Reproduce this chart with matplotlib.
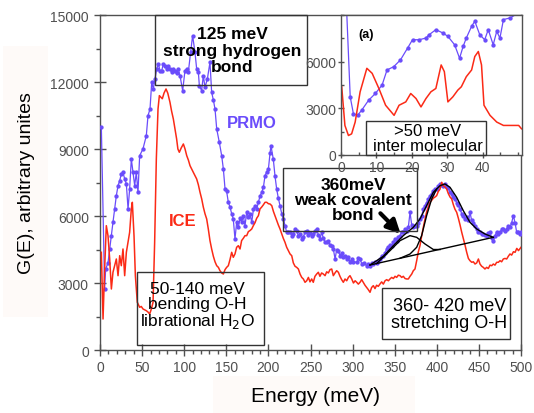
import matplotlib
matplotlib.use("Agg")
import matplotlib.pyplot as plt
from matplotlib.patches import Rectangle
from matplotlib.ticker import MultipleLocator

plt.rcParams['font.family'] = ['Liberation Sans', 'DejaVu Sans']

BLUE = '#6a4cfb'
RED = '#fb2a16'
GREY = '#505050'

# main spectrum G(E): PRMO (blue, dotted line) -- (energy meV, counts)
prmo = [(1.6, 9973), (5.5, 2732), (6.7, 3627), (9.5, 3900), (11.5, 4523), (13.5, 5119),
        (15.4, 5717), (17.4, 6314), (19.4, 6910), (21.4, 7358), (23.4, 7582), (25.3, 7882),
        (27.3, 7955), (29.3, 7658), (31.3, 7434), (33.3, 6314), (35.2, 7210), (37.2, 8553),
        (39.2, 7955), (41.2, 7358), (43.1, 7955), (45.1, 7060), (47.1, 8702), (51, 9000),
        (55, 9597), (57, 10493), (59.4, 10793), (61.4, 11988), (63.3, 11688), (65.3, 12136),
        (67.3, 12584), (69.3, 12808), (71.3, 12509), (73.3, 12509), (75.2, 12808),
        (77.2, 12733), (79, 12584), (81, 12700), (83.1, 12584), (85.1, 12435), (87, 12600),
        (89.1, 12509), (91, 12400), (93, 12584), (95, 12285), (98.2, 11614), (100.9, 12509),
        (102.9, 12584), (104.9, 12435), (107.6, 13330), (110, 14076), (112.8, 13330),
        (114.8, 12584), (116.8, 12435), (118, 11837), (120.7, 11614), (122.7, 12285),
        (124.7, 11763), (127.5, 12136), (130.6, 12883), (132.6, 11540), (134.6, 11200),
        (136.6, 10793), (138.6, 9897), (141.7, 9300), (144.5, 8702), (146.5, 8106),
        (148.5, 7210), (150.4, 7100), (152.4, 6614), (154.4, 6400), (156.4, 6100),
        (158.3, 5866), (160.3, 4971), (162.3, 5717), (164.3, 5493), (166.3, 5900),
        (168.2, 5717), (170.2, 6000), (172.2, 5567), (174.2, 6166), (176.2, 5941),
        (178.2, 6100), (180.2, 5717), (182.2, 6300), (184.1, 6462), (186.1, 6300),
        (188.1, 6614), (190.1, 6900), (192.1, 7060), (194.1, 7300), (196, 7806), (198, 7970),
        (200, 8105), (201.9, 8800), (203, 9150), (205.8, 8553), (207.8, 7806), (209.8, 7210),
        (211.8, 6800), (213.8, 6462), (215.8, 6100), (217.8, 5866), (219.7, 5567),
        (221.7, 5270), (223.7, 5300), (225.7, 5270), (227.7, 5120), (229.6, 5200),
        (231.6, 5400), (233.6, 5343), (235.6, 5100), (237.6, 5200), (239.6, 4971),
        (241.5, 5045), (243.5, 5300), (245.5, 5343), (247.5, 5150), (249.4, 5250),
        (251.4, 5120), (253.3, 5195), (255.3, 5350), (257.4, 5419), (259.3, 5150),
        (261.2, 4971), (263.3, 5270), (265.3, 5000), (267.3, 4823), (269.2, 4823),
        (271.2, 4900), (273.2, 4700), (275.2, 4671), (277.1, 4523), (279.2, 4075),
        (281.1, 4500), (283.1, 4447), (285, 4223), (287, 4350), (289, 4150), (291, 4223),
        (293, 4075), (295, 4150), (296.9, 3927), (299, 4075), (301, 3950), (304.9, 3927),
        (306.8, 4100), (308.8, 4075), (311, 3850), (313, 3900), (316.8, 3775), (318.7, 3850),
        (320.7, 3775), (322.6, 3900), (324.6, 3851), (326.6, 3950), (328.5, 3900),
        (330.5, 4000), (332.5, 4075), (334.5, 4200), (336.5, 4223), (338.5, 4350),
        (340.5, 4523), (342.5, 4600), (344.4, 4700), (346.4, 4650), (348.4, 4823),
        (350.4, 4950), (352.3, 4900), (354.3, 5050), (356.3, 5120), (358.3, 5300),
        (360.2, 5270), (362.3, 5419), (364.2, 5350), (366.2, 5500), (368.2, 6166),
        (370.2, 5600), (372.1, 5500), (374.1, 5567), (376.1, 5567), (378.1, 5700),
        (380, 5866), (382, 6000), (384, 6314), (386, 6462), (388, 6600), (389.9, 6750),
        (391.9, 6910), (393.9, 7000), (395.9, 7100), (397.9, 7210), (399.9, 7210),
        (401.8, 7350), (403.8, 7434), (405.8, 7400), (407.7, 7358), (409.7, 7434),
        (411.7, 7300), (413.7, 7250), (415.7, 7060), (417.6, 7000), (419.6, 6850),
        (421.6, 6762), (423.6, 6600), (425.6, 6500), (427.6, 6314), (429.6, 6100),
        (431.5, 6000), (433.5, 5866), (435.5, 5950), (437.4, 5800), (439.4, 6166),
        (441.4, 5800), (443.4, 5700), (445.4, 5567), (447.4, 5400), (449.3, 5300),
        (451.3, 5270), (453.3, 5200), (455.2, 5195), (457.2, 5150), (459.2, 5120),
        (461.2, 5250), (463.2, 5270), (465.2, 5000), (467.1, 4895), (469.1, 5100),
        (471.1, 5300), (473.1, 5200), (475.1, 5270), (477, 5400), (479, 5419), (481, 5350),
        (483, 5419), (485, 5567), (486.9, 5500), (488.9, 5700), (490.9, 6015), (492.9, 5700),
        (494.9, 5270), (496.9, 5270), (498.9, 5200), (500, 5270)]

# main spectrum G(E): ICE (red line)
ice = [(1.6, 4375), (3.6, 1388), (5.5, 3627), (7.5, 5567), (9.5, 5119), (11.5, 4075),
       (13.5, 2732), (15.4, 3480), (17.4, 3775), (19.4, 4075), (21.4, 3328), (23.4, 4223),
       (25.3, 3775), (27.3, 4523), (29.3, 3328), (31.3, 4375), (33.3, 4823), (35.2, 5270),
       (37.2, 6314), (38.4, 6614), (40.4, 5119), (42, 3328), (44.3, 2136), (47.1, 1912),
       (49, 1950), (51.1, 1836), (53, 1800), (55, 1760), (57, 1700), (59, 1612), (61, 1836),
       (63, 2136), (64.9, 4823), (66.9, 8553), (68.9, 10792), (70.5, 11390), (72.3, 11316),
       (74, 11250), (76, 11500), (78.4, 11688), (80.5, 11500), (83.1, 11092), (85, 10700),
       (87.1, 10345), (89, 9900), (91, 9450), (92.5, 9000), (94.2, 8854), (96.5, 9050),
       (99, 9225), (101, 9000), (103, 8702), (105, 8500), (106.9, 8254), (109, 8100),
       (110.9, 7950), (112.8, 7806), (114.8, 7658), (116.8, 7400), (118.8, 7060),
       (120.8, 6762), (122.7, 6400), (124.7, 6100), (126.7, 5866), (128.7, 5400),
       (130.6, 4900), (132.6, 4523), (134.6, 4200), (136.6, 3950), (138.6, 3775),
       (140.6, 3700), (142.5, 3550), (144.5, 3450), (146.5, 3403), (148.5, 3600),
       (150.4, 3700), (152.4, 3775), (154.4, 4050), (156.4, 4375), (158.3, 4150),
       (160.3, 4300), (162.3, 4600), (164.3, 4671), (166.3, 4523), (168.2, 4900),
       (170.2, 5000), (172.2, 5120), (174.2, 5119), (176.2, 5300), (178.2, 5350),
       (180.2, 5419), (182.1, 5567), (184.1, 5700), (186.1, 5900), (188.1, 6015), (190, 6314),
       (192, 6400), (194, 6500), (196, 6614), (198, 6614), (200, 6550), (201.9, 6538),
       (204, 6462), (206, 6200), (207.8, 6015), (209.9, 5800), (211.8, 5600), (213.8, 5419),
       (215.8, 5200), (217.7, 5000), (219.7, 4823), (221.7, 4600), (223.7, 4450),
       (225.7, 4300), (227.7, 4223), (229.6, 3900), (231.6, 3750), (233.6, 3700),
       (235.6, 3627), (237.6, 3400), (239.6, 3250), (241.5, 3180), (243.5, 3031),
       (245.5, 3100), (247.5, 3250), (249.4, 3050), (251.4, 3180), (253.3, 3031),
       (255.3, 3300), (257.3, 3400), (259.3, 3480), (261.2, 3300), (263.2, 3450),
       (265.2, 3403), (267.3, 3328), (269.2, 3500), (271.2, 3450), (273.2, 3600),
       (275.2, 3627), (277.1, 3328), (279.1, 3450), (281.1, 3550), (283.1, 3480), (285, 3300),
       (287, 3150), (289, 3031), (291, 3180), (293, 3100), (295, 3250), (296.9, 3328),
       (299, 3180), (301, 3000), (303, 3100), (304.9, 3031), (306.8, 2950), (308.8, 3031),
       (310.8, 3150), (312.7, 3031), (314.7, 2900), (316.7, 2800), (318.7, 2700),
       (320.7, 2584), (322.6, 2800), (324.6, 2880), (326.6, 2750), (328.5, 2900),
       (330.5, 2850), (332.5, 2956), (334.5, 3050), (336.5, 2950), (338.5, 3100),
       (340.5, 3150), (342.5, 3100), (344.4, 3180), (346.4, 3250), (348.4, 3200),
       (350.4, 3300), (352.3, 3250), (354.3, 3350), (356.3, 3328), (358.3, 3250),
       (360.2, 3300), (362.3, 3200), (364.3, 3180), (366.2, 3180), (368.2, 3300),
       (370.2, 3400), (372.1, 3550), (374.1, 3627), (376.1, 4000), (378.1, 4400), (380, 4671),
       (382, 5100), (384, 5500), (386, 5866), (388, 6200), (389.9, 6400), (391.9, 6614),
       (393.9, 6700), (395.9, 6800), (397.9, 6850), (399.8, 6910), (401.8, 7100),
       (403.8, 7200), (405.8, 7510), (407.7, 7358), (409.7, 7300), (411.7, 7210),
       (413.7, 7000), (415.7, 6850), (417.7, 6762), (419.7, 6500), (421.6, 6300),
       (423.6, 6166), (425.6, 5900), (427.6, 5600), (429.6, 5270), (431.5, 5000),
       (433.5, 4700), (435.5, 4375), (437.5, 4100), (439.4, 4000), (441.5, 3927),
       (443.4, 3950), (445.4, 3850), (447.4, 3900), (449.4, 4075), (451.3, 3850),
       (453.3, 3750), (455.2, 3700), (457.2, 3627), (459.2, 3700), (461.2, 3650),
       (463.2, 3800), (465.2, 3775), (467.1, 3850), (469.1, 3800), (471.1, 3927),
       (473.1, 3927), (475.1, 4000), (477, 3950), (479, 4075), (481, 4100), (483, 4075),
       (485, 4200), (486.9, 4300), (488.9, 4250), (491, 4400), (493, 4375), (495, 4550),
       (497, 4450), (500, 4599)]

# peak fit around 400 meV (black lines)
fit_base = [(320.7, 3806), (467.1, 5045)]
fit_sum = [(320.7, 3806), (336.5, 4196), (348.4, 4671), (360.2, 5120), (372.1, 5493),
           (380, 5866), (387.9, 6462), (395.8, 7060), (403.8, 7358), (409.7, 7434),
           (415.7, 7284), (423.6, 6836), (431.5, 6238), (439.4, 5717), (447.4, 5419),
           (457.2, 5195), (467.1, 5045)]
fit_small = [(328.5, 3870), (344.4, 4447), (356.3, 4895), (368.2, 5120), (376.1, 5045),
             (386, 4747), (395.9, 4500), (404, 4500)]
fit_big = [(356.3, 4107), (368.2, 4299), (376.1, 4599), (382, 5120), (387.9, 6015),
           (393.9, 6762), (399.9, 7210)]

# inset (a): low energy part, 0-50 meV
prmo_in = [(1.6, 9245), (2.6, 3737), (3.5, 2657), (4.7, 2549), (5.9, 2900), (7.8, 3520),
           (9.7, 3953), (11.6, 4492), (13.0, 5465), (14.9, 5680), (16.8, 6112), (18.8, 6869),
           (20.2, 7409), (22.1, 7409), (24.0, 7517), (24.9, 7733), (26.8, 8057), (28.8, 7841),
           (30.2, 7625), (32.1, 7085), (33.5, 6221), (34.5, 6977), (35.4, 7517), (36.9, 8273),
           (37.8, 8597), (39.2, 7733), (40.6, 7409), (41.6, 8057), (43.0, 7085), (44.0, 7949),
           (44.9, 7517), (45.9, 8705), (47.8, 8813), (50.2, 9137)]
ice_in = [(0.2, 4385), (1.1, 1900), (2.1, 1253), (3.0, 1360), (4.0, 2117), (5.4, 4061),
          (7.3, 5573), (8.8, 5249), (10.7, 4277), (12.6, 3197), (15.0, 2549), (16.4, 3197),
          (18.3, 3413), (19.7, 3953), (21.2, 3629), (22.6, 3089), (24.0, 3629), (25.4, 4061),
          (26.8, 4277), (28.3, 5789), (29.2, 5357), (30.2, 3413), (31.6, 3737), (33.0, 4169),
          (34.0, 4385), (35.4, 5033), (36.9, 5465), (37.8, 6329), (38.8, 6653), (39.7, 5789),
          (40.4, 3197), (42.1, 2549), (44.0, 2117), (45.9, 1900), (48.3, 1900), (50.2, 1900),
          (51.0, 1685)]

fig = plt.figure(figsize=(5.34, 4.14), dpi=100)

# faint label backgrounds
fig.patches.append(Rectangle((0.0056, 0.232), 0.0843, 0.655, transform=fig.transFigure,
                             facecolor='#fefaf8', edgecolor='none', zorder=0))
fig.patches.append(Rectangle((0.399, 0.0), 0.378, 0.089, transform=fig.transFigure,
                             facecolor='#fefaf8', edgecolor='none', zorder=0))

ax = fig.add_axes([0.18727, 0.15217, 0.78839, 0.80918])
x, y = zip(*prmo)
ax.plot(x, y, color=BLUE, lw=0.9, marker='o', ms=2.1, zorder=3)
x, y = zip(*ice)
ax.plot(x, y, color=RED, lw=1.1, zorder=3)
for part in (fit_base, fit_sum, fit_small, fit_big):
    x, y = zip(*part)
    ax.plot(x, y, color='black', lw=1.0, zorder=4)

ax.annotate('', xy=(357, 5200), xytext=(333, 6120),
            arrowprops=dict(arrowstyle='-|>', lw=3, color='black', mutation_scale=20,
                            shrinkA=0, shrinkB=0),
            zorder=5)

ax.set_xlim(0, 500)
ax.set_ylim(0, 15000)
ax.xaxis.set_major_locator(MultipleLocator(50))
ax.xaxis.set_minor_locator(MultipleLocator(10))
ax.yaxis.set_major_locator(MultipleLocator(3000))
ax.yaxis.set_minor_locator(MultipleLocator(1500))
ax.tick_params(axis='both', which='major', direction='inout', length=8, width=1,
               color=GREY, labelcolor=GREY, labelsize=10)
ax.tick_params(axis='y', which='major', pad=4)
ax.tick_params(axis='x', which='major', pad=3)
ax.tick_params(axis='both', which='minor', direction='out', length=3, width=1, color=GREY)
for s in ax.spines.values():
    s.set_color(GREY)
    s.set_linewidth(1)

fig.text(0.0496, 0.558, 'G(E), arbitrary unites', rotation=90, ha='center', va='center',
         fontsize=14)
fig.text(0.59, 0.043, 'Energy (meV)', ha='center', va='center', fontsize=15)

# annotation boxes (axes fraction)
boxes = [(0.1306, 0.791, 0.3611, 0.209), (0.0871, 0.0149, 0.3024, 0.2179),
         (0.4354, 0.3561, 0.3169, 0.1863), (0.669, 0.0328, 0.3049, 0.1514)]
for bx, by, bw, bh in boxes:
    ax.add_patch(Rectangle((bx, by), bw, bh, transform=ax.transAxes, fill=False,
                           edgecolor='#333333', lw=1, zorder=6, clip_on=False))

ax.text(0.3135, 0.8955, '125 meV\nstrong hydrogen\nbond', transform=ax.transAxes,
        ha='center', va='center', fontsize=12.5, fontweight='bold', linespacing=1.12, zorder=7)
ax.text(0.2304, 0.1328, '50-140 meV\nbending O-H\nlibrational H$_2$O', transform=ax.transAxes,
        ha='center', va='center', fontsize=12.5, linespacing=1.0, zorder=7)
ax.text(0.6017, 0.449, '360meV\nweak covalent\nbond', transform=ax.transAxes,
        ha='center', va='center', fontsize=12.5, fontweight='bold', linespacing=1.0, zorder=7)
ax.text(0.830, 0.1075, '360- 420 meV\nstretching O-H', transform=ax.transAxes,
        ha='center', va='center', fontsize=13, linespacing=1.05, zorder=7)
ax.text(0.3603, 0.6797, 'PRMO', transform=ax.transAxes, ha='center', va='center',
        fontsize=12, fontweight='bold', color=BLUE)
ax.text(0.1971, 0.386, 'ICE', transform=ax.transAxes, ha='center', va='center',
        fontsize=12, fontweight='bold', color=RED)

# inset
axi = fig.add_axes([0.6386, 0.6232, 0.338, 0.3382])
axi.set_facecolor('white')
x, y = zip(*prmo_in)
axi.plot(x, y, color=BLUE, lw=0.9, marker='o', ms=2.1)
x, y = zip(*ice_in)
axi.plot(x, y, color=RED, lw=1.1)
axi.set_xlim(0, 51)
axi.set_ylim(0, 9000)
axi.set_xticks([0, 10, 20, 30, 40])
axi.set_yticks([0, 3000, 6000])
axi.xaxis.set_minor_locator(MultipleLocator(5))
axi.yaxis.set_minor_locator(MultipleLocator(1500))
axi.tick_params(axis='both', which='major', direction='inout', length=5, width=1,
                color=GREY, labelcolor=GREY, labelsize=10, pad=1)
axi.tick_params(axis='both', which='minor', direction='in', length=2.5, width=1, color=GREY)
for s in axi.spines.values():
    s.set_color(GREY)
    s.set_linewidth(1)
axi.add_patch(Rectangle((0.1385, 0.0), 0.6645, 0.245, transform=axi.transAxes, fill=False,
                        edgecolor='#333333', lw=1, zorder=6, clip_on=False))
axi.text(0.479, 0.121, '>50 meV\ninter molecular', transform=axi.transAxes, ha='center',
         va='center', fontsize=12, linespacing=0.95, zorder=7)
axi.text(0.1385, 0.864, '(a)', transform=axi.transAxes, ha='center', va='center',
         fontsize=9, fontweight='bold')

fig.savefig('out.png', dpi=100)
